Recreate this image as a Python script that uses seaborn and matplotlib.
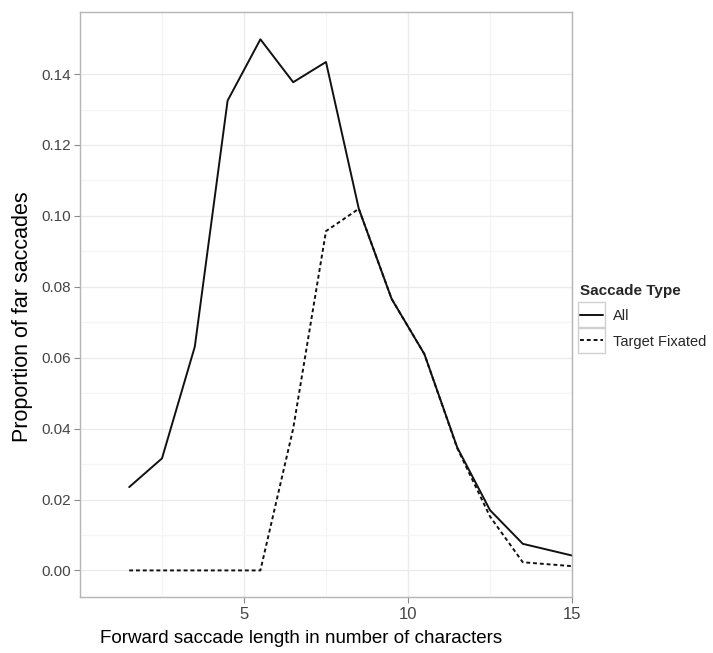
import matplotlib
matplotlib.use("Agg")
import matplotlib.pyplot as plt
from matplotlib.patches import Rectangle
import numpy as np
import pandas as pd
import seaborn as sns

# Forward saccade length (bin centres, in characters)
saccade_length = [1.5, 2.5, 3.5, 4.5, 5.5, 6.5, 7.5, 8.5, 9.5, 10.5, 11.5, 12.5, 13.5, 15.0]
# Proportion of far saccades, all saccades
prop_all = [0.0235, 0.0316, 0.0631, 0.1325, 0.1498, 0.1377, 0.1434, 0.1020,
            0.0766, 0.0610, 0.0347, 0.0170, 0.0075, 0.0042]
# Proportion of far saccades where the target was fixated
prop_target = [0.0, 0.0, 0.0, 0.0, 0.0, 0.0400, 0.0957, 0.1020,
               0.0766, 0.0610, 0.0345, 0.0152, 0.0023, 0.0012]
series_names = ["All", "Target Fixated"]

x_ticks = [5, 10, 15]
y_ticks = [0.00, 0.02, 0.04, 0.06, 0.08, 0.10, 0.12, 0.14]

df = pd.DataFrame({
    "length": saccade_length * 2,
    "prop": prop_all + prop_target,
    "Saccade Type": [series_names[0]] * len(saccade_length) + [series_names[1]] * len(saccade_length),
})

sns.set_theme(style="white")
plt.rcParams["font.family"] = ["Liberation Sans", "DejaVu Sans"]

W, H = 713, 653
fig = plt.figure(figsize=(W / 100, H / 100), dpi=100)
ax = fig.add_axes([80 / W, 1 - 597 / H, (572 - 80) / W, (597 - 12) / H])

sns.lineplot(
    data=df, x="length", y="prop", style="Saccade Type",
    style_order=series_names,
    dashes={"All": "", "Target Fixated": (2.0, 1.5)},
    color="#111111", linewidth=1.4, ax=ax, legend=True,
)

# panel limits and grid
ax.set_xlim(0, 15)
ax.set_ylim(-0.0075, 0.1575)
ax.set_xticks(x_ticks)
ax.set_xticks([2.5, 7.5, 12.5], minor=True)
ax.set_yticks(y_ticks)
ax.set_yticks(np.arange(0.01, 0.15, 0.02), minor=True)
ax.set_xticklabels([str(t) for t in x_ticks])
ax.set_yticklabels([f"{t:.2f}" for t in y_ticks])
ax.grid(which="major", color="#EBEBEB", linewidth=1.0)
ax.grid(which="minor", color="#F5F5F5", linewidth=0.9)
ax.set_axisbelow(True)
for s in ax.spines.values():
    s.set_color("#B5B5B5")
    s.set_linewidth(1.0)
ax.tick_params(axis="both", which="major", length=4, width=0.8, color="#8A8A8A",
               labelcolor="#444444", direction="out", bottom=True, left=True)
ax.tick_params(axis="x", which="major", pad=3, labelsize=12)
ax.tick_params(axis="y", which="major", pad=2.5, labelsize=11)
ax.tick_params(axis="both", which="minor", length=0)

ax.set_xlabel("Forward saccade length in number of characters", fontsize=13.5,
              color="black", labelpad=6)
ax.xaxis.label.set_x(0.45)
ax.set_ylabel("Proportion of far saccades", fontsize=15.5, color="black", labelpad=6)
ax.yaxis.label.set_y(0.48)

# legend to the right of the panel, with boxed keys
ax.get_legend().remove()
handles, labels = ax.get_legend_handles_labels()
leg = fig.legend(handles, labels, title="Saccade Type", loc="upper left",
                 bbox_to_anchor=(574 / W, 1 - 278 / H), frameon=False,
                 fontsize=10.5, title_fontsize=11, handlelength=1.6,
                 handletextpad=0.7, labelspacing=0.78, borderaxespad=0)
leg.get_title().set_fontweight("bold")
leg._legend_box.align = "left"

fig.canvas.draw()
renderer = fig.canvas.get_renderer()
for ln in leg.get_lines():
    bb = ln.get_window_extent(renderer)
    cx, cy = (bb.x0 + bb.x1) / 2, (bb.y0 + bb.y1) / 2
    fig.patches.append(Rectangle(((cx - 13.5) / W, (cy - 13) / H), 27 / W, 26 / H,
                                 transform=fig.transFigure, fill=False,
                                 edgecolor="#D0D0D0", linewidth=1.0, zorder=0))

fig.savefig("out.png", dpi=100)
